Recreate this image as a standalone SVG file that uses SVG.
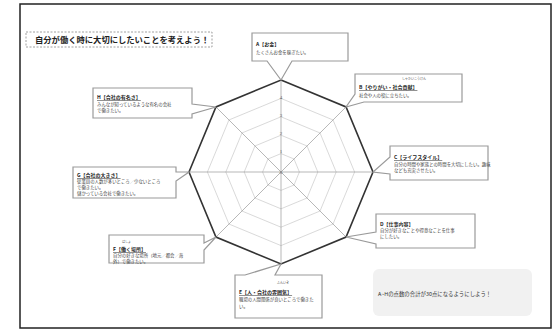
<svg xmlns="http://www.w3.org/2000/svg" width="556" height="332" viewBox="0 0 556 332">
<style>
.frame{fill:#fff;stroke:#222;stroke-width:1.5}
.title{font-family:"Noto Sans CJK JP","Noto Sans CJK SC",sans-serif;font-size:8.3px;font-weight:bold;fill:#222}
.call{fill:#fff;stroke:#9a9a9a;stroke-width:1.2;stroke-linejoin:miter}
.lb{font-family:"Noto Sans CJK JP",sans-serif;font-size:5px;font-weight:bold;fill:#222}
.u{text-decoration:underline}
.tx{font-family:"Noto Sans CJK JP",sans-serif;font-size:4.4px;fill:#444}
.rb{font-family:"Noto Sans CJK JP",sans-serif;font-size:3px;fill:#555}
.ring{fill:none;stroke:#cfcfcf;stroke-width:0.8}
.outer{fill:none;stroke:#333;stroke-width:1.6}
.spoke{stroke:#999;stroke-width:0.7}
.num{font-family:"Liberation Serif",serif;font-size:5px;fill:#666;text-anchor:middle}
.note{font-family:"Noto Sans CJK JP",sans-serif;font-size:5.4px;fill:#333}
</style>
<rect class="frame" x="20" y="4" width="531" height="324"/>
<g id="title">
<rect x="26" y="32" width="186" height="15" fill="#fff" stroke="#888" stroke-width="0.8" stroke-dasharray="2,1.5"/>
<text class="title" x="35" y="43">自分が働く時に大切にしたいことを考えよう！</text>
</g>
<g id="radar">
<polygon class="ring" points="281,153.6 294.01,158.99 299.4,172 294.01,185.01 281,190.4 267.99,185.01 262.6,172 267.99,158.99"/>
<polygon class="ring" points="281,135.2 307.02,145.98 317.8,172 307.02,198.02 281,208.8 254.98,198.02 244.2,172 254.98,145.98"/>
<polygon class="ring" points="281,116.8 320.03,132.97 336.2,172 320.03,211.03 281,227.2 241.97,211.03 225.8,172 241.97,132.97"/>
<polygon class="ring" points="281,98.4 333.04,119.96 354.6,172 333.04,224.04 281,245.6 228.96,224.04 207.4,172 228.96,119.96"/>
<line class="spoke" x1="281" y1="80" x2="281" y2="264"/>
<line class="spoke" x1="189" y1="172" x2="373" y2="172"/>
<line class="spoke" x1="215.95" y1="106.95" x2="346.05" y2="237.05"/>
<line class="spoke" x1="346.05" y1="106.95" x2="215.95" y2="237.05"/>
<polygon class="outer" points="281,80 346.05,106.95 373,172 346.05,237.05 281,264 215.95,237.05 189,172 215.95,106.95"/>
<text class="num" x="281" y="99">4</text>
<text class="num" x="281" y="117">3</text>
<text class="num" x="281" y="135">2</text>
<text class="num" x="281" y="153">1</text>
<text class="num" x="281" y="174">0</text>
</g>
<g id="nodeA">
<path class="call" d="M252,33 H348 V61 H292 L281,80 L267,61 H252 Z"/>
<text class="lb" x="256" y="46">A【お金】</text>
<text class="tx" x="256" y="54">たくさんお金を稼ぎたい。</text>
</g>
<g id="nodeB">
<path class="call" d="M355,74 H462 V102 H364 L346,107 L355,94 Z"/>
<text class="rb" x="402" y="80">しゃかいこうけん</text>
<text class="lb u" x="359" y="89">B【やりがい・社会貢献】</text>
<text class="tx" x="359" y="97">社会や人の役に立ちたい。</text>
</g>
<g id="nodeC">
<path class="call" d="M390,146 H488 V180 H390 V174 L373,172 L390,157 Z"/>
<text class="lb u" x="394" y="159">C【ライフスタイル】</text>
<text class="tx" x="394" y="166">自分の時間や家族との時間を大切にしたい。趣味</text>
<text class="tx" x="394" y="172">なども充実させたい。</text>
</g>
<g id="nodeD">
<path class="call" d="M376,214 H475 V248 H376 V244 L346,237 L376,232 Z"/>
<text class="lb" x="380" y="226">D【仕事内容】</text>
<text class="tx" x="380" y="232">自分が好きなことや得意なことを仕事</text>
<text class="tx" x="380" y="238">にしたい。</text>
</g>
<g id="nodeE">
<path class="call" d="M235,275 H245 L281,264 L275,275 H322 V318 H235 Z"/>
<text class="rb" x="277" y="284">ふんいき</text>
<text class="lb u" x="239" y="294">E【人・会社の雰囲気】</text>
<text class="tx" x="239" y="301">職場の人間関係が良いところで働きた</text>
<text class="tx" x="239" y="308">い。</text>
</g>
<g id="nodeF">
<path class="call" d="M109,235 H204 V243 L216,237 L204,250 V263 H109 Z"/>
<text class="rb" x="122" y="243">ばしょ</text>
<text class="lb u" x="113" y="251">F【働く場所】</text>
<text class="tx" x="113" y="257">自分の好きな場所（地元／都会／海</text>
<text class="tx" x="113" y="263">外）で働きたい。</text>
</g>
<g id="nodeG">
<path class="call" d="M73,167 H176 V172 L189,172 L176,181 V198 H73 Z"/>
<text class="lb u" x="77" y="177">G【会社の大きさ】</text>
<text class="tx" x="77" y="183">従業員の人数が多いところ／少ないところ</text>
<text class="tx" x="77" y="189">で働きたい。</text>
<text class="tx" x="77" y="195">儲かっている会社で働きたい。</text>
</g>
<g id="nodeH">
<path class="call" d="M93,88 H192 V104 L216,107 L192,114 V118 H93 Z"/>
<text class="lb u" x="97" y="99">H【会社の有名さ】</text>
<text class="tx" x="97" y="106">みんなが知っているような有名の会社</text>
<text class="tx" x="97" y="112">で働きたい。</text>
</g>
<g id="note">
<rect x="373" y="269" width="159" height="47" rx="6" fill="#f1f1f1"/>
<text class="note" x="378" y="296">A~Hの点数の合計が30点になるようにしよう！</text>
</g>
</svg>
